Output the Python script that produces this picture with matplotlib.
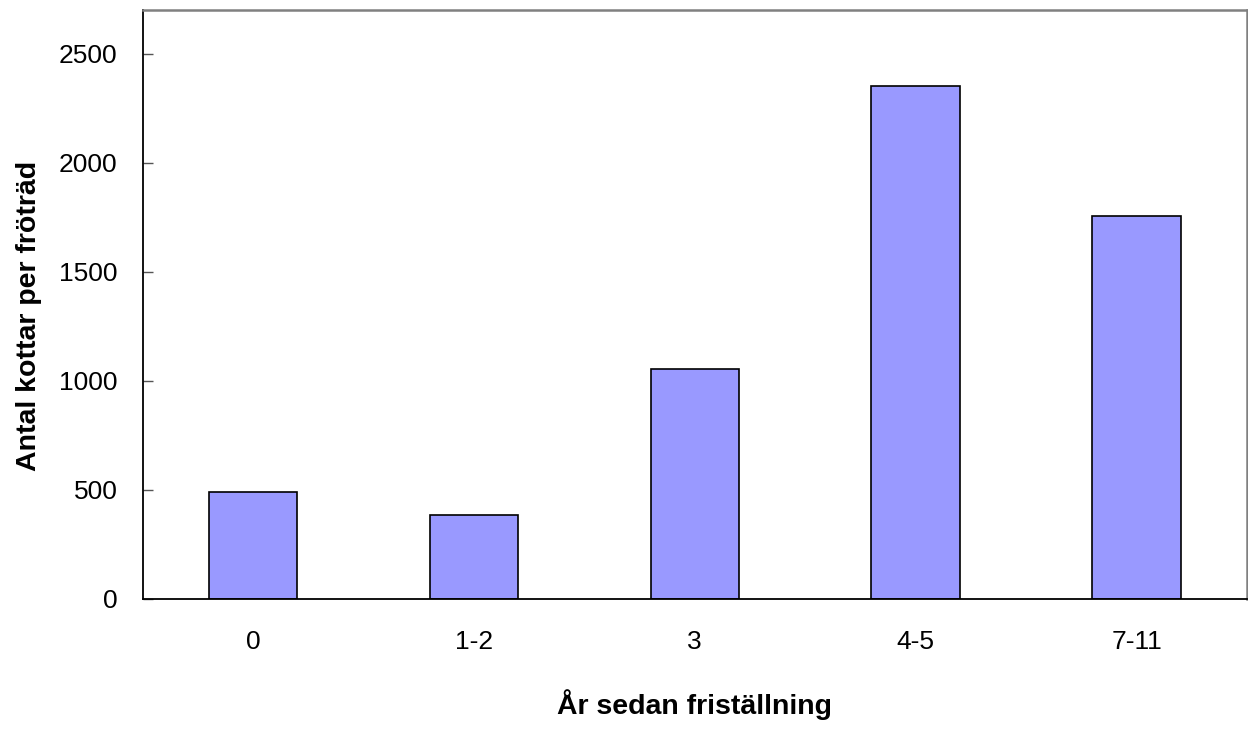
import matplotlib
matplotlib.use("Agg")
import matplotlib.pyplot as plt
import numpy as np

plt.rcParams['font.family'] = ['Liberation Sans', 'DejaVu Sans']

# data
categories = ["0", "1-2", "3", "4-5", "7-11"]
kottar = [490, 385, 1053, 2350, 1755]
yticks = [0, 500, 1000, 1500, 2000, 2500]

fig = plt.figure(figsize=(12.48, 7.29), dpi=100)
ax = fig.add_axes([142.5 / 1248, 1 - 599 / 729, (1247 - 142.5) / 1248, 589 / 729])

x = np.arange(len(categories))
ax.bar(x, kottar, width=0.4, color="#9999FF", edgecolor="black", linewidth=1.2, zorder=2)

ax.set_xlim(-0.5, len(categories) - 0.5)
ax.set_ylim(0, 2700)
ax.set_xticks(x)
ax.set_xticklabels(categories)
ax.set_yticks(yticks)

ax.tick_params(axis="x", length=0, pad=22, labelsize=19)
ax.tick_params(axis="y", direction="in", length=7, width=1, color="#555555",
               pad=18, labelsize=19)

for side in ["left", "bottom"]:
    ax.spines[side].set_color("black")
    ax.spines[side].set_linewidth(1.3)
for side in ["top", "right"]:
    ax.spines[side].set_color("#808080")
    ax.spines[side].set_linewidth(1.8)

ax.set_ylabel("Antal kottar per fröträd", fontsize=20.5, fontweight="bold")
ax.yaxis.set_label_coords(-0.103, 0.48)
ax.set_xlabel("År sedan friställning", fontsize=20.5, fontweight="bold")
ax.xaxis.set_label_coords(0.5, -0.18)
ax.xaxis.label.set_va("center")
ax.yaxis.label.set_va("center")

fig.savefig("out.png", dpi=100)
